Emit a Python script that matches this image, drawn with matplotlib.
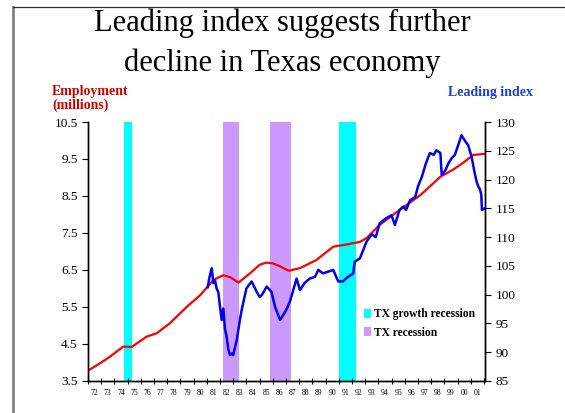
import matplotlib
matplotlib.use("Agg")
import matplotlib.pyplot as plt
from matplotlib.patches import Patch
from matplotlib.lines import Line2D

plt.rcParams['font.family'] = ['Liberation Serif', 'DejaVu Serif']

# Texas employment (millions), left axis
emp_year = [1972.0, 1973.0, 1973.67, 1974.67, 1975.3, 1976.45, 1977.2, 1978.2,
            1979.5, 1980.5, 1981.5, 1982.25, 1982.8, 1983.4, 1984.27, 1985.0,
            1985.5, 1986.0, 1986.55, 1987.2, 1988.06, 1989.3, 1990.58, 1991.6,
            1992.6, 1993.1, 1994.1, 1995.6, 1997.2, 1998.7, 1999.7, 2000.43,
            2001.2, 2002.07]
emp_val = [3.78, 4.00, 4.16, 4.43, 4.42, 4.70, 4.79, 5.06,
           5.51, 5.82, 6.23, 6.36, 6.30, 6.16, 6.41, 6.64,
           6.70, 6.68, 6.60, 6.48, 6.55, 6.77, 7.13, 7.19,
           7.26, 7.36, 7.72, 8.12, 8.53, 9.02, 9.22, 9.40,
           9.61, 9.64]

# Texas leading index, right axis
lead_year = [1981.07, 1981.2, 1981.37, 1981.5, 1981.62, 1981.75, 1981.87, 1982.0,
             1982.13, 1982.25, 1982.38, 1982.5, 1982.63, 1982.76, 1982.9, 1983.0,
             1983.1, 1983.27, 1983.5, 1983.64, 1984.0, 1984.4, 1984.78, 1985.0,
             1985.16, 1985.54, 1985.9, 1986.17, 1986.55, 1986.8, 1987.05, 1987.3,
             1987.55, 1987.8, 1988.06, 1988.4, 1988.8, 1989.2, 1989.45, 1989.8,
             1990.2, 1990.58, 1990.96, 1991.3, 1991.7, 1992.1, 1992.2, 1992.6,
             1992.86, 1993.1, 1993.5, 1993.8, 1994.1, 1994.6, 1995.0, 1995.25,
             1995.6, 1995.9, 1996.1, 1996.4, 1996.8, 1997.0, 1997.3, 1997.6,
             1997.9, 1998.2, 1998.4, 1998.7, 1998.8, 1999.1, 1999.3, 1999.55,
             1999.8, 2000.05, 2000.3, 2000.6, 2000.8, 2001.06, 2001.3, 2001.45,
             2001.57, 2001.7, 2001.8, 2001.85, 2002.07]
lead_val = [101.3, 103.0, 104.6, 102.0, 102.5, 101.0, 100.5, 97.9,
            95.6, 97.6, 94.0, 92.7, 90.5, 89.5, 89.8, 89.5,
            90.5, 92.1, 95.5, 97.3, 101.1, 102.3, 100.5, 99.6,
            99.9, 101.4, 100.5, 97.9, 95.6, 96.5, 97.5, 98.8,
            100.8, 102.8, 100.8, 102.0, 102.8, 103.1, 104.3, 103.7,
            104.0, 104.3, 102.3, 102.3, 103.1, 103.7, 105.7, 106.3,
            107.8, 109.2, 110.5, 110.0, 112.4, 113.3, 113.8, 112.1,
            114.7, 115.3, 114.7, 116.4, 117.0, 118.8, 120.5, 122.8,
            124.6, 124.3, 125.1, 124.6, 120.8, 121.7, 122.8, 123.7,
            124.3, 126.0, 127.7, 126.6, 126.0, 124.0, 121.1, 119.6,
            118.8, 118.3, 117.3, 114.7, 115.0]

# shaded periods (start, end)
growth_rec = [(1974.73, 1975.31), (1991.04, 1992.28)]
tx_rec = [(1982.23, 1983.44), (1985.79, 1987.38)]

year_labels = ['72', '73', '74', '75', '76', '77', '78', '79', '80', '81', '82',
               '83', '84', '85', '86', '87', '88', '89', '90', '91', '92', '93',
               '94', '95', '96', '97', '98', '99', '00', '01']

fig = plt.figure(figsize=(5.65, 4.13), dpi=100)
ax = fig.add_axes([0.1558, 0.0775, 0.7026, 0.6271])
ax2 = ax.twinx()

cyan = '#00ffff'
purple = '#cc99ff'
for s, e in growth_rec:
    ax.axvspan(s, e, color=cyan, lw=0, zorder=1)
for s, e in tx_rec:
    ax.axvspan(s, e, color=purple, lw=0, zorder=1)

ax.plot(emp_year, emp_val, color='#ff0000', lw=1.6, zorder=3)
ax2.plot(lead_year, lead_val, color='#0000ee', lw=1.8, zorder=4)

ax.set_xlim(1972.0, 2002.08)
ax.set_ylim(3.5, 10.5)
ax2.set_ylim(85, 130)

ax.set_yticks([3.5 + i for i in range(8)])
ax.set_yticklabels(['%.1f' % (3.5 + i) for i in range(8)])
ax2.set_yticks(range(85, 131, 5))

ax.set_xticks(range(1972, 2003))
ax.set_xticklabels([])
ax.set_xticks([1972.5 + i for i in range(len(year_labels))], minor=True)
ax.set_xticklabels(year_labels, minor=True)
ax.tick_params(axis='x', which='major', direction='inout', length=4, width=0.8)
ax.tick_params(axis='x', which='minor', length=0, labelsize=5.5, pad=6)
ax.tick_params(axis='y', direction='out', length=4, width=0.8, labelsize=9.5)
ax2.tick_params(axis='y', direction='out', length=4, width=0.8, labelsize=9.5)

for a in (ax, ax2):
    a.spines['top'].set_visible(False)
    a.spines['left'].set_linewidth(1.0)
    a.spines['right'].set_linewidth(1.0)
    a.spines['bottom'].set_linewidth(1.0)

fig.text(0.500, 0.944, 'Leading index suggests further', ha='center', va='center',
         fontsize=22)
fig.text(0.500, 0.847, 'decline in Texas economy', ha='center', va='center',
         fontsize=22)

fig.text(0.092, 0.762, 'Employment\n(millions)', ha='left', va='center',
         fontsize=10, fontweight='bold', color='#cc0000', linespacing=1.0)
fig.text(0.944, 0.777, 'Leading index', ha='right', va='center',
         fontsize=10, fontweight='bold', color='#1a3fd6')

handles = [Patch(facecolor=cyan, edgecolor='none', label='TX growth recession'),
           Patch(facecolor=purple, edgecolor='none', label='TX recession')]
ax2.legend(handles=handles, loc='upper left', bbox_to_anchor=(0.67, 0.32),
           frameon=False, handlelength=0.6, handleheight=0.8, handletextpad=0.25,
           labelspacing=0.55, prop={'weight': 'bold', 'size': 8.3})

# page border
fig.add_artist(Line2D([0.023, 0.023], [0.0, 0.983], color='#808080', lw=2.0))
fig.add_artist(Line2D([0.023, 1.0], [0.983, 0.983], color='#333333', lw=0.9))

fig.savefig('out.png', dpi=100)
